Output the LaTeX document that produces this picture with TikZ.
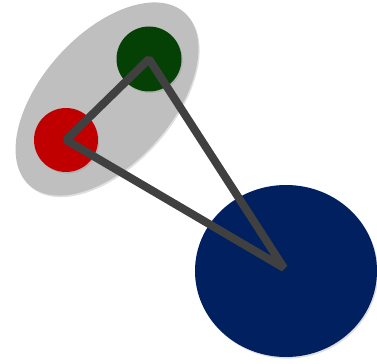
\documentclass[tikz,border=0pt]{standalone}
\definecolor{groupGray}{RGB}{191, 191, 191}
\definecolor{nodeRed}{RGB}{192, 0, 0}
\definecolor{nodeGreen}{RGB}{5, 64, 5}
\definecolor{nodeBlue}{RGB}{0, 32, 96}
\definecolor{edgeGray}{RGB}{64, 64, 64}
\usepackage{tikz}
\usetikzlibrary{shapes, shadows}

\begin{document}
\begin{tikzpicture}[x=0.5mm, y=0.5mm,
        softshadow/.style={drop shadow={opacity=0.25, shadow xshift=0.6mm, shadow yshift=-0.8mm}}]
        \useasboundingbox (0,0) rectangle (377,364);

        % Grouping ellipse behind the two small nodes
        \node[ellipse, fill=groupGray, minimum width=116mm, minimum height=65mm,
              rotate=48, softshadow] (grp) at (107,265) {};

        % Small nodes
        \node[circle, fill=nodeRed, minimum size=32mm, inner sep=0pt, softshadow] (red) at (66,224) {};
        \node[circle, fill=nodeGreen, minimum size=32.5mm, inner sep=0pt, softshadow] (green) at (149,305) {};

        % Large node
        \node[ellipse, fill=nodeBlue, minimum width=91mm, minimum height=86mm, inner sep=0pt,
              softshadow] (blue) at (286,93) {};

        % Edges between the node centres
        \draw[edgeGray, line width=4mm, line join=bevel]
            (red.center) -- (green.center) -- ([xshift=-1mm, yshift=1.5mm]blue.center) -- cycle;
    \end{tikzpicture}
\end{document}
